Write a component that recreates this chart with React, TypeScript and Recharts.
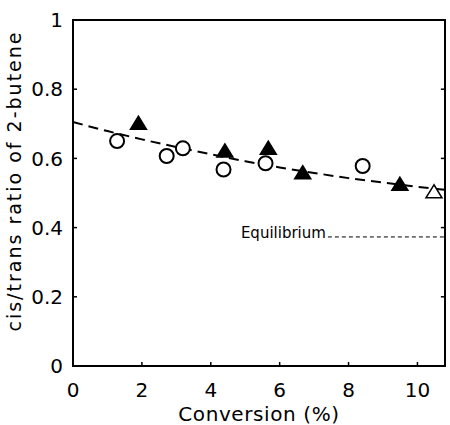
import { ComposedChart, Line, Scatter, XAxis, YAxis, ReferenceLine } from "recharts";

// values
const openCircleX = [1.28, 2.72, 3.19, 4.37, 5.59, 8.41];
const openCircleY = [0.65, 0.607, 0.629, 0.568, 0.586, 0.578];
const filledTriX = [1.9, 4.41, 5.67, 6.67, 9.49];
const filledTriY = [0.703, 0.623, 0.631, 0.56, 0.527];
const openTriX = [10.48];
const openTriY = [0.505];
const curveX = [0, 1, 2, 3, 4, 5, 6, 7, 8, 9, 10, 10.8];
const curveY = [0.705, 0.679, 0.655, 0.633, 0.612, 0.592, 0.574, 0.558, 0.543, 0.53, 0.518, 0.509];
const xTicks = [0, 2, 4, 6, 8, 10];
const yTicks = [0, 0.2, 0.4, 0.6, 0.8, 1];
const X_MAX = 10.8;
const EQ_VALUE = 0.373;
const EQ_START = 7.4;

const zip = (xs: number[], ys: number[]) => xs.map((x, i) => ({ x, y: ys[i] }));
const circles = zip(openCircleX, openCircleY);
const filled = zip(filledTriX, filledTriY);
const openTri = zip(openTriX, openTriY);
const curve = zip(curveX, curveY);

const FONT = "DejaVu Sans";
const INK = "#000";
const MARGIN = { top: 20, right: 5, bottom: 0, left: 0 };
const Y_AXIS_W = 73;
const X_AXIS_H = 59;
const W = 450;
const H = 425;

function Circle(props: any) {
  const { cx, cy } = props;
  return <circle cx={cx} cy={cy} r={7} fill="#fff" stroke={INK} strokeWidth={2} />;
}

function Triangle(props: any) {
  const { cx, cy, fill } = props;
  const w = 8;
  const h = 6.5;
  const pts = `${cx},${cy - h} ${cx - w},${cy + h} ${cx + w},${cy + h}`;
  return <polygon points={pts} fill={fill} stroke={INK} strokeWidth={1.5} strokeLinejoin="miter" />;
}

const tickStyle = { fontFamily: FONT, fontSize: 20, fill: INK };
const axisStroke = { stroke: INK, strokeWidth: 2 };
const tickLineStyle = { stroke: INK, strokeWidth: 1.5 };

export default function App() {
  // box of the plot area, used for the frame drawn over the chart
  const frame = {
    left: MARGIN.left + Y_AXIS_W - 1,
    top: MARGIN.top - 1,
    width: W - MARGIN.left - Y_AXIS_W - MARGIN.right + 2,
    height: H - MARGIN.top - X_AXIS_H - MARGIN.bottom + 2,
  };
  return (
    <div style={{ position: "absolute", left: 0, top: 0, width: W, height: H, background: "#fff" }}>
      <ComposedChart width={W} height={H} margin={MARGIN}>
        <XAxis
          dataKey="x"
          type="number"
          domain={[0, X_MAX]}
          ticks={xTicks}
          allowDataOverflow
          height={X_AXIS_H}
          stroke={INK}
          tickSize={-4}
          tickMargin={21}
          tick={tickStyle}
          tickLine={tickLineStyle}
          axisLine={axisStroke}
          label={{
            value: "Conversion (%)",
            position: "insideBottom",
            offset: 4,
            style: { fontFamily: FONT, fontSize: 20, fill: INK, letterSpacing: 0.6 },
          }}
        />
        <YAxis
          dataKey="y"
          type="number"
          domain={[0, 1]}
          ticks={yTicks}
          width={Y_AXIS_W}
          stroke={INK}
          tickSize={-4}
          tickMargin={14}
          tick={tickStyle}
          tickLine={tickLineStyle}
          axisLine={axisStroke}
          label={{
            content: ({ viewBox }: any) => {
              const x = viewBox.x + 14;
              const y = viewBox.y + viewBox.height / 2 - 12;
              return (
                <text
                  x={x}
                  y={y}
                  transform={`rotate(-90 ${x} ${y})`}
                  textAnchor="middle"
                  dominantBaseline="central"
                  fontFamily={FONT}
                  fontSize={19}
                  letterSpacing={2}
                  fill={INK}
                >
                  cis/trans ratio of 2-butene
                </text>
              );
            },
          }}
        />
        {yTicks.slice(1, -1).map((t) => (
          <ReferenceLine
            key={t}
            segment={[
              { x: X_MAX - 0.12, y: t },
              { x: X_MAX, y: t },
            ]}
            ifOverflow="visible"
            stroke={INK}
            strokeWidth={1.5}
          />
        ))}
        <ReferenceLine
          segment={[
            { x: EQ_START, y: EQ_VALUE },
            { x: X_MAX, y: EQ_VALUE },
          ]}
          stroke={INK}
          strokeWidth={1}
          strokeDasharray="4 3"
          label={{
            value: "Equilibrium",
            position: "left",
            offset: 2,
            dy: -4,
            style: { fontFamily: FONT, fontSize: 15, fill: INK },
          }}
        />
        <Line
          data={curve}
          dataKey="y"
          type="monotone"
          stroke={INK}
          strokeWidth={2}
          strokeDasharray="10 6"
          dot={false}
          activeDot={false}
          isAnimationActive={false}
        />
        <Scatter data={circles} dataKey="y" shape={<Circle />} isAnimationActive={false} />
        <Scatter data={filled} dataKey="y" fill={INK} shape={<Triangle />} isAnimationActive={false} />
        <Scatter data={openTri} dataKey="y" fill="#fff" shape={<Triangle />} isAnimationActive={false} />
      </ComposedChart>
      <div
        style={{
          position: "absolute",
          ...frame,
          boxSizing: "border-box",
          border: `2px solid ${INK}`,
          pointerEvents: "none",
        }}
      />
    </div>
  );
}
